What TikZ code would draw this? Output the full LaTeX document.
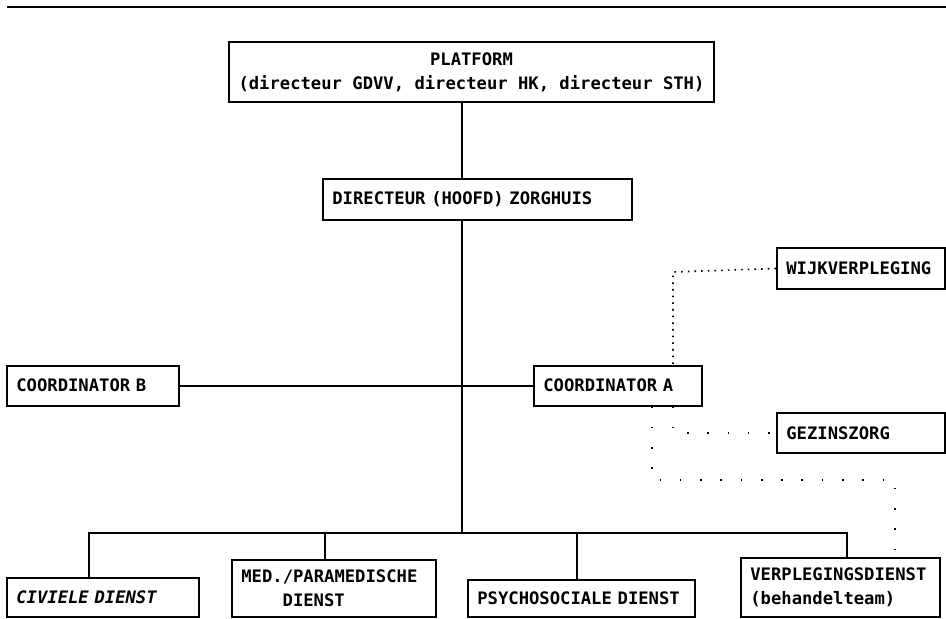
\documentclass[tikz,border=0pt]{standalone}
\usepackage{fontspec}
\setmonofont{DejaVu Sans Mono}
\newcommand{\orgfont}{\ttfamily\bfseries\fontsize{12.9}{18}\selectfont}

\begin{document}
\begin{tikzpicture}[x=0.75pt,y=0.75pt,yscale=-1,xscale=1,
  orgbox/.style={draw, line width=1.5pt, inner xsep=7pt, inner ysep=0pt, align=left, font=\orgfont},
  orgline/.style={line width=1.5pt},
  dotlink/.style={line width=1.2pt, dash pattern=on 1.2pt off 3.8pt},
  faintlink/.style={line width=1.2pt, dash pattern=on 1.2pt off 14pt}]
\useasboundingbox (0,0) rectangle (946,618);

% Rule
\draw[orgline] (7,6.5) -- (946,6.5);

% Text Node
\node[orgbox, align=center, minimum width=360.75pt, minimum height=45pt] (platform) at (471.5,72) {PLATFORM\\(directeur GDVV, directeur HK, directeur STH)};
% Text Node
\node[orgbox, text width=217.75pt, minimum height=30.75pt] (director) at (477.5,199.5) {DIRECTEUR (HOOFD) ZORGHUIS};
% Text Node
\node[orgbox, text width=112pt, minimum height=30.75pt] (wijk) at (861,268.5) {WIJKVERPLEGING};
% Text Node
\node[orgbox, text width=115pt, minimum height=30pt] (coordB) at (93,385.5) {COORDINATOR B};
% Text Node
\node[orgbox, text width=112pt, minimum height=30pt] (coordA) at (618,385.5) {COORDINATOR A};
% Text Node
\node[orgbox, text width=112pt, minimum height=30pt] (gez) at (861,433) {GEZINSZORG};
% Text Node
\node[orgbox, text width=130pt, minimum height=29.25pt, font=\orgfont\itshape] (civiele) at (103,597.5) {CIVIELE DIENST};
% Text Node
\node[orgbox, text width=139pt, minimum height=42.75pt] (med) at (334,588.5) {MED./PARAMEDISCHE\\\hspace*{31pt}DIENST};
% Text Node
\node[orgbox, text width=156.25pt, minimum height=27.75pt] (psycho) at (581.5,598.5) {PSYCHOSOCIALE DIENST};
% Text Node
\node[orgbox, text width=135.25pt, minimum height=44.25pt] (verpl) at (840.5,587.5) {VERPLEGINGSDIENST\\(behandelteam)};

% Bend points
\coordinate (spine) at (462,533);
\coordinate (tapC) at (89,533);
\coordinate (tapM) at (325,533);
\coordinate (tapP) at (577,533);
\coordinate (tapV) at (847,533);
\coordinate (wbend) at (673,272);
\coordinate (gbend) at (673,433);
\coordinate (vbend) at (652,480);
\coordinate (vbend2) at (895,480);

% Connection
\draw[orgline] (platform.south -| spine) -- (director.north -| spine);
% Connection
\draw[orgline] (director.south -| spine) -- (spine);
% Connection
\draw[orgline] (coordB.east) -- (coordA.west);
% Connection
\draw[orgline] (tapC |- civiele.north) -- (tapC) -- (tapV) -- (tapV |- verpl.north);
% Connection
\draw[orgline] (tapM) -- (tapM |- med.north);
% Connection
\draw[orgline] (tapP) -- (tapP |- psycho.north);
% Connection
\draw[dotlink] (wijk.west) -- (wbend) -- (wbend |- coordA.north);
% Connection
\draw[faintlink] (coordA.south -| gbend) -- (gbend) -- (gez.west);
% Connection
\draw[faintlink] (coordA.south -| vbend) -- (vbend) -- (vbend2) -- (vbend2 |- verpl.north);

\end{tikzpicture}
\end{document}
